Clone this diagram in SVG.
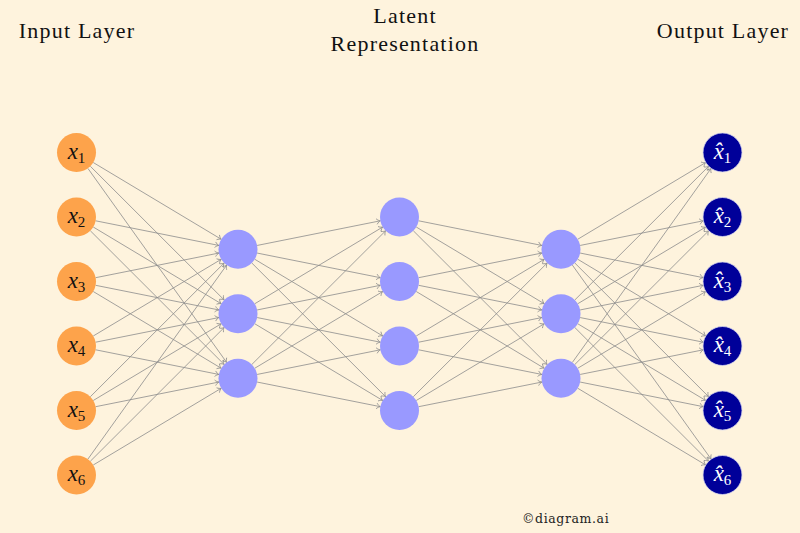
<svg xmlns="http://www.w3.org/2000/svg" width="800" height="533" viewBox="0 0 800 533">
<style>
.title{font-family:"Liberation Serif","DejaVu Serif",serif;font-size:22px;letter-spacing:1.2px;fill:#111;text-anchor:middle}
.lbl{font-family:"Liberation Serif","DejaVu Serif",serif;font-size:23px;text-anchor:middle}
.in circle{fill:#FDA34B}
.hid circle{fill:#9999FF}
.out circle{fill:#000099;stroke:#d8d8ee;stroke-width:0.8}
.in text{fill:#111}
.out text{fill:#fff}
#edges line{stroke:#8c8c8c;stroke-width:0.8;marker-end:url(#arr)}
.wm{font-family:"DejaVu Serif",serif;font-size:12.5px;letter-spacing:0.6px;fill:#222}
</style>
<defs>
<marker id="arr" markerUnits="userSpaceOnUse" markerWidth="8" markerHeight="8" refX="0" refY="0" orient="auto" overflow="visible">
<path d="M -3.8,-2.8 C -2.6,-1.3 -1.1,-0.3 0,0 C -1.1,0.3 -2.6,1.3 -3.8,2.8" fill="none" stroke="#8c8c8c" stroke-width="0.8"/>
</marker>
</defs>
<rect width="800" height="533" fill="#FEF3DD"/>
<text class="title" x="77" y="38">Input Layer</text>
<text class="title" x="405" y="23">Latent</text>
<text class="title" x="405" y="51">Representation</text>
<text class="title" x="723" y="38">Output Layer</text>
<g id="edges">
<line x1="93.24" y1="162.5" x2="221.26" y2="239.25"/>
<line x1="90.32" y1="166.26" x2="224.18" y2="299.99"/>
<line x1="87.87" y1="168.34" x2="226.63" y2="362.41"/>
<line x1="95.63" y1="220.81" x2="218.87" y2="245.44"/>
<line x1="93.24" y1="227" x2="221.26" y2="303.75"/>
<line x1="90.32" y1="230.76" x2="224.18" y2="364.49"/>
<line x1="95.63" y1="277.69" x2="218.87" y2="253.06"/>
<line x1="95.63" y1="285.31" x2="218.87" y2="309.94"/>
<line x1="93.24" y1="291.5" x2="221.26" y2="368.25"/>
<line x1="93.24" y1="336" x2="221.26" y2="259.25"/>
<line x1="95.63" y1="342.19" x2="218.87" y2="317.56"/>
<line x1="95.63" y1="349.81" x2="218.87" y2="374.44"/>
<line x1="90.32" y1="396.74" x2="224.18" y2="263.01"/>
<line x1="93.24" y1="400.5" x2="221.26" y2="323.75"/>
<line x1="95.63" y1="406.69" x2="218.87" y2="382.06"/>
<line x1="87.87" y1="459.16" x2="226.63" y2="265.09"/>
<line x1="90.32" y1="461.24" x2="224.18" y2="327.51"/>
<line x1="93.24" y1="465" x2="221.26" y2="388.25"/>
<line x1="257.13" y1="245.44" x2="380.37" y2="220.81"/>
<line x1="257.13" y1="253.06" x2="380.37" y2="277.69"/>
<line x1="254.74" y1="259.25" x2="382.76" y2="336"/>
<line x1="251.82" y1="263.01" x2="385.68" y2="396.74"/>
<line x1="254.74" y1="303.75" x2="382.76" y2="227"/>
<line x1="257.13" y1="309.94" x2="380.37" y2="285.31"/>
<line x1="257.13" y1="317.56" x2="380.37" y2="342.19"/>
<line x1="254.74" y1="323.75" x2="382.76" y2="400.5"/>
<line x1="251.82" y1="364.49" x2="385.68" y2="230.76"/>
<line x1="254.74" y1="368.25" x2="382.76" y2="291.5"/>
<line x1="257.13" y1="374.44" x2="380.37" y2="349.81"/>
<line x1="257.13" y1="382.06" x2="380.37" y2="406.69"/>
<line x1="418.63" y1="220.81" x2="541.87" y2="245.44"/>
<line x1="416.24" y1="227" x2="544.26" y2="303.75"/>
<line x1="413.32" y1="230.76" x2="547.18" y2="364.49"/>
<line x1="418.63" y1="277.69" x2="541.87" y2="253.06"/>
<line x1="418.63" y1="285.31" x2="541.87" y2="309.94"/>
<line x1="416.24" y1="291.5" x2="544.26" y2="368.25"/>
<line x1="416.24" y1="336" x2="544.26" y2="259.25"/>
<line x1="418.63" y1="342.19" x2="541.87" y2="317.56"/>
<line x1="418.63" y1="349.81" x2="541.87" y2="374.44"/>
<line x1="413.32" y1="396.74" x2="547.18" y2="263.01"/>
<line x1="416.24" y1="400.5" x2="544.26" y2="323.75"/>
<line x1="418.63" y1="406.69" x2="541.87" y2="382.06"/>
<line x1="577.74" y1="239.25" x2="705.76" y2="162.5"/>
<line x1="580.13" y1="245.44" x2="703.37" y2="220.81"/>
<line x1="580.13" y1="253.06" x2="703.37" y2="277.69"/>
<line x1="577.74" y1="259.25" x2="705.76" y2="336"/>
<line x1="574.82" y1="263.01" x2="708.68" y2="396.74"/>
<line x1="572.37" y1="265.09" x2="711.13" y2="459.16"/>
<line x1="574.82" y1="299.99" x2="708.68" y2="166.26"/>
<line x1="577.74" y1="303.75" x2="705.76" y2="227"/>
<line x1="580.13" y1="309.94" x2="703.37" y2="285.31"/>
<line x1="580.13" y1="317.56" x2="703.37" y2="342.19"/>
<line x1="577.74" y1="323.75" x2="705.76" y2="400.5"/>
<line x1="574.82" y1="327.51" x2="708.68" y2="461.24"/>
<line x1="572.37" y1="362.41" x2="711.13" y2="168.34"/>
<line x1="574.82" y1="364.49" x2="708.68" y2="230.76"/>
<line x1="577.74" y1="368.25" x2="705.76" y2="291.5"/>
<line x1="580.13" y1="374.44" x2="703.37" y2="349.81"/>
<line x1="580.13" y1="382.06" x2="703.37" y2="406.69"/>
<line x1="577.74" y1="388.25" x2="705.76" y2="465"/>
</g>
<g id="in1" class="in"><circle cx="76.5" cy="152.5" r="19.5"/><text class="lbl" x="76.5" y="158.5"><tspan font-style="italic">x</tspan><tspan font-size="15" dy="4">1</tspan></text></g>
<g id="in2" class="in"><circle cx="76.5" cy="217" r="19.5"/><text class="lbl" x="76.5" y="223"><tspan font-style="italic">x</tspan><tspan font-size="15" dy="4">2</tspan></text></g>
<g id="in3" class="in"><circle cx="76.5" cy="281.5" r="19.5"/><text class="lbl" x="76.5" y="287.5"><tspan font-style="italic">x</tspan><tspan font-size="15" dy="4">3</tspan></text></g>
<g id="in4" class="in"><circle cx="76.5" cy="346" r="19.5"/><text class="lbl" x="76.5" y="352"><tspan font-style="italic">x</tspan><tspan font-size="15" dy="4">4</tspan></text></g>
<g id="in5" class="in"><circle cx="76.5" cy="410.5" r="19.5"/><text class="lbl" x="76.5" y="416.5"><tspan font-style="italic">x</tspan><tspan font-size="15" dy="4">5</tspan></text></g>
<g id="in6" class="in"><circle cx="76.5" cy="475" r="19.5"/><text class="lbl" x="76.5" y="481"><tspan font-style="italic">x</tspan><tspan font-size="15" dy="4">6</tspan></text></g>
<g id="h1a" class="hid"><circle cx="238" cy="249.25" r="19.5"/></g>
<g id="h1b" class="hid"><circle cx="238" cy="313.75" r="19.5"/></g>
<g id="h1c" class="hid"><circle cx="238" cy="378.25" r="19.5"/></g>
<g id="lat1" class="hid"><circle cx="399.5" cy="217" r="19.5"/></g>
<g id="lat2" class="hid"><circle cx="399.5" cy="281.5" r="19.5"/></g>
<g id="lat3" class="hid"><circle cx="399.5" cy="346" r="19.5"/></g>
<g id="lat4" class="hid"><circle cx="399.5" cy="410.5" r="19.5"/></g>
<g id="h2a" class="hid"><circle cx="561" cy="249.25" r="19.5"/></g>
<g id="h2b" class="hid"><circle cx="561" cy="313.75" r="19.5"/></g>
<g id="h2c" class="hid"><circle cx="561" cy="378.25" r="19.5"/></g>
<g id="out1" class="out"><circle cx="722.5" cy="152.5" r="19.5"/><text class="lbl" x="722.5" y="158.5"><tspan font-style="italic">x̂</tspan><tspan font-size="15" dy="4">1</tspan></text></g>
<g id="out2" class="out"><circle cx="722.5" cy="217" r="19.5"/><text class="lbl" x="722.5" y="223"><tspan font-style="italic">x̂</tspan><tspan font-size="15" dy="4">2</tspan></text></g>
<g id="out3" class="out"><circle cx="722.5" cy="281.5" r="19.5"/><text class="lbl" x="722.5" y="287.5"><tspan font-style="italic">x̂</tspan><tspan font-size="15" dy="4">3</tspan></text></g>
<g id="out4" class="out"><circle cx="722.5" cy="346" r="19.5"/><text class="lbl" x="722.5" y="352"><tspan font-style="italic">x̂</tspan><tspan font-size="15" dy="4">4</tspan></text></g>
<g id="out5" class="out"><circle cx="722.5" cy="410.5" r="19.5"/><text class="lbl" x="722.5" y="416.5"><tspan font-style="italic">x̂</tspan><tspan font-size="15" dy="4">5</tspan></text></g>
<g id="out6" class="out"><circle cx="722.5" cy="475" r="19.5"/><text class="lbl" x="722.5" y="481"><tspan font-style="italic">x̂</tspan><tspan font-size="15" dy="4">6</tspan></text></g>
<text class="wm" x="522" y="523">©diagram.ai</text>
</svg>
